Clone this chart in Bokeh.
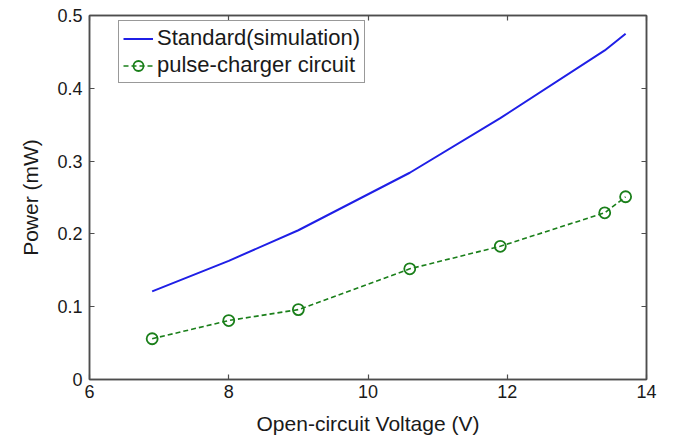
from bokeh.plotting import figure
from bokeh.models import Range1d, FixedTicker, LinearAxis, CustomJSTickFormatter, Legend
from bokeh.embed import file_html
from bokeh.resources import INLINE

# Data
voltage = [6.9, 8.0, 9.0, 10.6, 11.9, 13.4, 13.7]
standard_power = [0.121, 0.163, 0.205, 0.284, 0.359, 0.452, 0.475]
pulse_power = [0.056, 0.081, 0.096, 0.152, 0.183, 0.229, 0.251]

x_ticks = [6, 8, 10, 12, 14]
y_ticks = [0, 0.1, 0.2, 0.3, 0.4, 0.5]

FONT = "Liberation Sans"
AX_COLOR = "#4d4d4d"
TXT_COLOR = "#1a1a1a"

p = figure(width=681, height=448, x_range=Range1d(6, 14), y_range=Range1d(0, 0.5),
           output_backend="svg", toolbar_location=None,
           min_border_left=89, min_border_right=35, min_border_top=15, min_border_bottom=69,
           background_fill_color="white", border_fill_color="white")

p.xgrid.visible = False
p.ygrid.visible = False
p.outline_line_color = AX_COLOR
p.outline_line_width = 1.5

fmt = CustomJSTickFormatter(code="return tick.toFixed(1).replace(/\\.0$/, '');")
blank = CustomJSTickFormatter(code="return '';")

for ax, ticks in ((p.xaxis[0], x_ticks), (p.yaxis[0], y_ticks)):
    ax.ticker = FixedTicker(ticks=ticks)
    ax.major_tick_in = 5
    ax.major_tick_out = 0
    ax.minor_tick_line_color = None
    ax.axis_line_color = AX_COLOR
    ax.axis_line_width = 1.5
    ax.major_tick_line_color = AX_COLOR
    ax.major_tick_line_width = 1.2
    ax.major_label_text_font = FONT
    ax.major_label_text_font_size = "18px"
    ax.major_label_text_color = TXT_COLOR
    ax.axis_label_text_font = FONT
    ax.axis_label_text_font_size = "21px"
    ax.axis_label_text_font_style = "normal"
    ax.axis_label_text_color = TXT_COLOR

p.yaxis[0].formatter = fmt
p.xaxis[0].axis_label = "Open-circuit Voltage (V)"
p.yaxis[0].axis_label = "Power (mW)"
p.xaxis[0].major_label_standoff = 5
p.yaxis[0].major_label_standoff = 7
p.xaxis[0].axis_label_standoff = 11
p.yaxis[0].axis_label_standoff = 12

# mirrored tick marks on top and right (no labels)
for loc, ticks in (("above", x_ticks), ("right", y_ticks)):
    ax = LinearAxis(ticker=FixedTicker(ticks=ticks), formatter=blank)
    ax.major_tick_in = 5
    ax.major_tick_out = 0
    ax.minor_tick_line_color = None
    ax.axis_line_color = AX_COLOR
    ax.axis_line_width = 1.5
    ax.major_tick_line_color = AX_COLOR
    ax.major_tick_line_width = 1.2
    ax.major_label_standoff = 0
    p.add_layout(ax, loc)

r_std = p.line(voltage, standard_power, line_color="#1f1fe6", line_width=2)
r_pl = p.line(voltage, pulse_power, line_color="#1a7f1a", line_width=1.6, line_dash="5 3")
r_pc = p.scatter(voltage, pulse_power, marker="circle", size=11, fill_color=None,
                 line_color="#1a7f1a", line_width=1.8)

legend = Legend(items=[("Standard(simulation)", [r_std]), ("pulse-charger circuit", [r_pl, r_pc])],
                location=(29, 296))
legend.label_text_font = FONT
legend.label_text_font_size = "22px"
legend.label_text_color = TXT_COLOR
legend.glyph_width = 30
legend.glyph_height = 25
legend.label_height = 25
legend.label_standoff = 4
legend.spacing = 1
legend.padding = 4
legend.margin = 0
legend.border_line_color = "#333333"
legend.border_line_width = 1.2
legend.background_fill_alpha = 1
p.add_layout(legend, "center")

open("out.html", "w").write(file_html(p, INLINE))
